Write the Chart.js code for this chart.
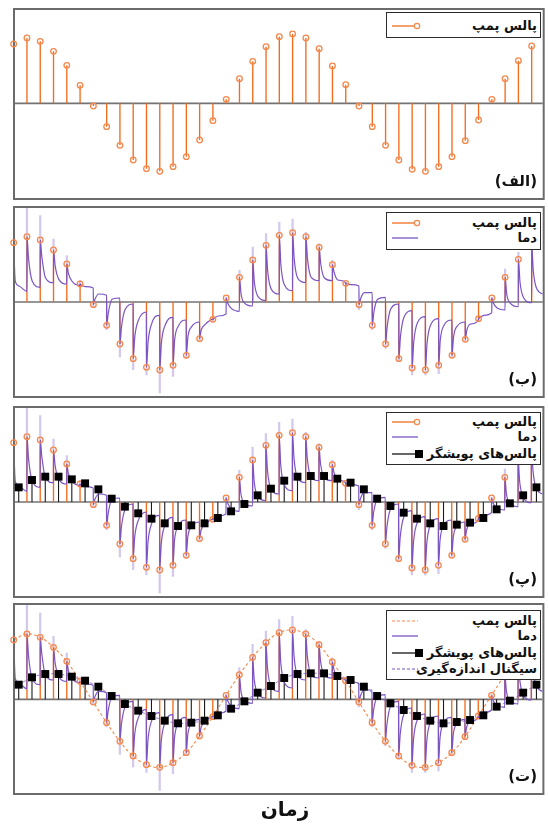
<!DOCTYPE html>
<html>
<head>
<meta charset="utf-8">
<script src="https://cdn.jsdelivr.net/npm/chart.js@4.4.1/dist/chart.umd.min.js"></script>
<style>
  html, body { margin: 0; padding: 0; background: #fff; }
  body { width: 548px; height: 826px; position: relative; overflow: hidden; font-family: "DejaVu Sans", sans-serif; }
  canvas.panel { position: absolute; left: 0; }
  .legend { position: absolute; left: 386px; width: 155px; background: #fff; border: 1.4px solid #2b2b2b; box-sizing: border-box; }
  .legend .row { position: absolute; left: 0; right: 0; height: 16px; }
  .legend svg { position: absolute; left: 4px; top: 0; }
  .legend span { position: absolute; right: 3px; top: 0; line-height: 16px; font-size: 13px; font-weight: bold; direction: rtl; white-space: nowrap; color: #111; }
  .tag { position: absolute; right: 11px; line-height: 18px; font-size: 15px; font-weight: bold; direction: rtl; color: #111; }
  .axis-title { position: absolute; left: 235px; width: 100px; top: 797px; text-align: center; font-size: 20px; font-weight: bold; direction: rtl; color: #111; }
</style>
</head>
<body>
<script>
// Pump pulse amplitudes, one per pulse (pulse number = array index)
const pump = [0.89, 0.98, 0.93, 0.78, 0.57, 0.27, -0.04, -0.35, -0.63, -0.85,
              -0.98, -1.02, -0.95, -0.80, -0.55, -0.26, 0.06, 0.37, 0.63, 0.85,
              1.00, 1.04, 0.98, 0.82, 0.56, 0.28, -0.04, -0.35, -0.63, -0.85,
              -0.99, -1.02, -0.95, -0.80, -0.56, -0.25, 0.06, 0.37, 0.64, 0.86];

// Temperature response: overshoot tip of each spike, then the decay level
// shortly after the pulse, mid-way, and just before the next pulse
const tempTip = [1.00, 1.52, 1.30, 0.95, 0.70, 0.33, -0.08, -0.42, -0.83, -1.02,
                 -1.10, -1.37, -1.12, -0.85, -0.58, -0.30, 0.08, 0.48, 0.83, 1.03,
                 1.20, 1.25, 1.05, 0.88, 0.63, 0.30, -0.12, -0.42, -0.70, -0.90,
                 -1.10, -1.10, -1.08, -0.83, -0.60, -0.28, 0.08, 0.50, 0.75, 1.10];
const tempEarly = [0.31, 0.65, 0.68, 0.55, 0.43, 0.25, 0.04, -0.17, -0.37, -0.52,
                   -0.60, -0.62, -0.57, -0.52, -0.42, -0.24, -0.02, 0.12, 0.30, 0.47,
                   0.55, 0.65, 0.65, 0.57, 0.45, 0.27, 0.05, -0.15, -0.37, -0.52,
                   -0.60, -0.62, -0.57, -0.52, -0.42, -0.23, -0.02, 0.12, 0.30, 0.47];
const tempMid = [0.24, 0.31, 0.36, 0.34, 0.31, 0.23, 0.12, 0.04, -0.11, -0.27,
                 -0.32, -0.35, -0.36, -0.37, -0.34, -0.21, -0.10, -0.02, 0.08, 0.19,
                 0.25, 0.35, 0.37, 0.36, 0.33, 0.26, 0.14, 0.04, -0.10, -0.22,
                 -0.31, -0.34, -0.35, -0.36, -0.33, -0.20, -0.09, -0.02, 0.06, 0.19];
const tempEnd = [0.16, 0.22, 0.29, 0.27, 0.25, 0.21, 0.10, 0.06, -0.03, -0.15,
                 -0.20, -0.23, -0.27, -0.30, -0.26, -0.18, -0.14, -0.06, 0.02, 0.12,
                 0.17, 0.29, 0.32, 0.32, 0.29, 0.24, 0.14, 0.07, -0.03, -0.13,
                 -0.22, -0.25, -0.27, -0.30, -0.27, -0.16, -0.12, -0.07, -0.01, 0.11];

// Probe pulses (sampled signal), each fired a fixed lag after its pump pulse
const probe = [0.22, 0.33, 0.38, 0.38, 0.34, 0.28, 0.19, 0.05, -0.07, -0.17,
               -0.25, -0.32, -0.36, -0.35, -0.32, -0.24, -0.14, -0.03, 0.10, 0.20,
               0.32, 0.38, 0.39, 0.39, 0.35, 0.29, 0.19, 0.05, -0.06, -0.16,
               -0.25, -0.32, -0.36, -0.34, -0.31, -0.24, -0.11, -0.02, 0.10, 0.22];
const probeLag = 0.38;

// Text
const labels = {
  pump: 'پالس پمپ',
  temp: 'دما',
  probe: 'پالس‌های پویشگر',
  signal: 'سیگنال اندازه‌گیری'
};
const panelTags = ['(الف)', '(ب)', '(پ)', '(ت)'];
const axisTitle = 'زمان';

// Colours
const ORANGE = '#f26c1f';
const ORANGE_RING = '#f5884c';
const PURPLE = '#7b55c4';
const PURPLE_FAINT = 'rgba(123,85,196,0.33)';

const pulseX = pump.map((_, i) => i);
const probeX = pump.map((_, i) => i + probeLag);

// Panel frames (inner plot rectangle top in px) and legend layout
const panels = [
  { top: 10,  yMin: -1.42, yMax: 1.40, layers: ['pump'],
    legend: { top: 12, height: 26, rows: [['pump', 12.5]] } },
  { top: 208, yMin: -1.41, yMax: 1.41, layers: ['pump', 'temp'],
    legend: { top: 212, height: 38, rows: [['pump', 10], ['temp', 25]] } },
  { top: 408, yMin: -1.41, yMax: 1.41, layers: ['pump', 'temp', 'probe'],
    legend: { top: 412, height: 53, rows: [['pump', 8.5], ['temp', 24], ['probe', 40.5]] } },
  { top: 605, yMin: -1.405, yMax: 1.415, layers: ['pumpDashed', 'temp', 'probe', 'signal'],
    legend: { top: 610, height: 70, rows: [['pumpDashed', 9.5], ['temp', 25], ['probe', 41.5], ['signal', 57.5]] } }
];

const PLOT_W = 529, PLOT_H = 188, PAD_L = 15, PAD_R = 4, PAD_V = 10;
const PX_PER_PULSE = 13.315;
const X_MIN = 0.1;
const X_MAX = X_MIN + PLOT_W / PX_PER_PULSE;

function stemPoints(xs, ys, from) {
  const pts = [];
  xs.forEach((x, i) => {
    pts.push({ x, y: from ? from[i] : 0 });
    pts.push({ x, y: ys[i] });
    pts.push({ x, y: null });
  });
  return pts;
}

function tempPoints() {
  const pts = [];
  pump.forEach((p, i) => {
    pts.push({ x: i, y: p });
    pts.push({ x: i + 0.12, y: tempEarly[i] });
    pts.push({ x: i + 0.40, y: tempMid[i] });
    pts.push({ x: i + 0.996, y: tempEnd[i] });
  });
  return pts;
}

function xy(xs, ys) { return xs.map((x, i) => ({ x, y: ys[i] })); }

// Frame and zero baseline, drawn under the data
const framePlugin = {
  id: 'frame',
  beforeDatasetsDraw(chart) {
    const { ctx, chartArea: a, scales } = chart;
    ctx.save();
    ctx.strokeStyle = '#6b6b6b';
    ctx.lineWidth = 2;
    ctx.strokeRect(a.left - 1, a.top - 1, a.right - a.left + 2, a.bottom - a.top + 2);
    const y0 = scales.y.getPixelForValue(0);
    ctx.strokeStyle = '#737373';
    ctx.lineWidth = 1.6;
    ctx.beginPath();
    ctx.moveTo(a.left, y0);
    ctx.lineTo(a.right, y0);
    ctx.stroke();
    ctx.restore();
  }
};

function buildDatasets(layers) {
  const has = k => layers.includes(k);
  const ds = [];
  const line = (o) => Object.assign({ pointRadius: 0, fill: false, spanGaps: false, tension: 0 }, o);
  if (has('probe')) {
    ds.push(line({ data: xy(probeX, probe), showLine: false, pointStyle: 'rect', pointRadius: 5.6,
      pointBackgroundColor: '#000', pointBorderColor: '#000', pointBorderWidth: 0, clip: false }));
  }
  ds.push(line({ data: xy(pulseX, pump), showLine: false, pointStyle: 'circle', pointRadius: 2.8,
    pointBackgroundColor: 'rgba(0,0,0,0)', pointBorderColor: ORANGE_RING, pointBorderWidth: 1.3, clip: false }));
  if (has('pumpDashed')) {
    ds.push(line({ data: xy(pulseX, pump), borderColor: ORANGE_RING, borderWidth: 1.1, borderDash: [3, 2.5], tension: 0.4 }));
  }
  if (has('signal')) {
    ds.push(line({ data: xy(probeX, probe), borderColor: 'rgba(123,85,196,0.75)', borderWidth: 1, borderDash: [3, 2], tension: 0.3 }));
  }
  if (has('temp')) {
    ds.push(line({ data: tempPoints(), borderColor: PURPLE, borderWidth: 1.2, cubicInterpolationMode: 'monotone' }));
    ds.push(line({ data: stemPoints(pulseX, tempTip, pump), borderColor: PURPLE_FAINT, borderWidth: 2.2 }));
  }
  if (has('probe')) {
    ds.push(line({ data: stemPoints(probeX, probe), borderColor: '#1a1a1a', borderWidth: 1.1 }));
  }
  ds.push(line({ data: stemPoints(pulseX, pump), borderColor: ORANGE, borderWidth: 1.35, clip: false }));
  return ds;
}

const SAMPLE = {
  pump: `<line x1="1" y1="8" x2="26" y2="8" stroke="${ORANGE}" stroke-width="1.3"/><circle cx="26" cy="8" r="2.7" fill="#fff" stroke="${ORANGE_RING}" stroke-width="1.2"/>`,
  pumpDashed: `<line x1="1" y1="8" x2="27" y2="8" stroke="${ORANGE_RING}" stroke-width="1.2" stroke-dasharray="3,2"/>`,
  temp: `<line x1="1" y1="8" x2="27" y2="8" stroke="${PURPLE}" stroke-width="1.3"/>`,
  probe: `<line x1="1" y1="8" x2="26" y2="8" stroke="#000" stroke-width="1.2"/><rect x="24" y="4" width="8" height="8" fill="#000"/>`,
  signal: `<line x1="1" y1="8" x2="27" y2="8" stroke="${PURPLE}" stroke-width="1.1" stroke-dasharray="3,2"/>`
};
const LABEL_KEY = { pump: 'pump', pumpDashed: 'pump', temp: 'temp', probe: 'probe', signal: 'signal' };

panels.forEach((p, idx) => {
  const canvas = document.createElement('canvas');
  canvas.className = 'panel';
  canvas.width = 548;
  canvas.height = PLOT_H + 2 * PAD_V;
  canvas.style.top = (p.top - PAD_V) + 'px';
  document.body.appendChild(canvas);

  new Chart(canvas, {
    type: 'line',
    data: { datasets: buildDatasets(p.layers) },
    options: {
      responsive: false,
      animation: false,
      events: [],
      layout: { padding: { left: PAD_L, right: PAD_R, top: PAD_V, bottom: PAD_V } },
      scales: {
        x: { type: 'linear', min: X_MIN, max: X_MAX, display: false, offset: false },
        y: { type: 'linear', min: p.yMin, max: p.yMax, display: false }
      },
      plugins: { legend: { display: false }, tooltip: { enabled: false } }
    },
    plugins: [framePlugin]
  });

  const lg = document.createElement('div');
  lg.className = 'legend';
  lg.style.top = p.legend.top + 'px';
  lg.style.height = p.legend.height + 'px';
  p.legend.rows.forEach(([key, center]) => {
    const row = document.createElement('div');
    row.className = 'row';
    row.style.top = (center - 8) + 'px';
    row.innerHTML = `<svg width="34" height="16" viewBox="0 0 34 16">${SAMPLE[key]}</svg><span>${labels[LABEL_KEY[key]]}</span>`;
    lg.appendChild(row);
  });
  document.body.appendChild(lg);

  const tag = document.createElement('div');
  tag.className = 'tag';
  tag.textContent = panelTags[idx];
  tag.style.top = (p.top + PLOT_H - 26) + 'px';
  document.body.appendChild(tag);
});

const title = document.createElement('div');
title.className = 'axis-title';
title.textContent = axisTitle;
document.body.appendChild(title);
</script>
</body>
</html>
